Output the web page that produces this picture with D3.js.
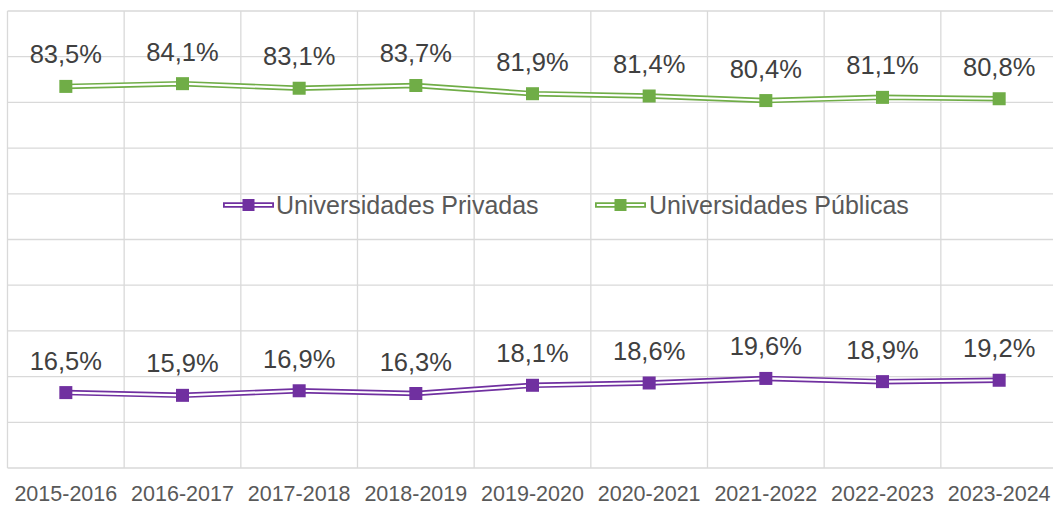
<!DOCTYPE html>
<html>
<head>
<meta charset="utf-8">
<script src="https://cdn.jsdelivr.net/npm/d3@7"></script>
<style>
  html, body { margin: 0; padding: 0; background: #fff; }
  svg { display: block; font-family: "Liberation Sans", Arial, sans-serif; }
</style>
</head>
<body>
<svg id="chart" width="1053" height="505"></svg>
<script>
// chart data
const years = ["2015-2016", "2016-2017", "2017-2018", "2018-2019", "2019-2020",
  "2020-2021", "2021-2022", "2022-2023", "2023-2024"];
const privadas = [16.5, 15.9, 16.9, 16.3, 18.1, 18.6, 19.6, 18.9, 19.2];
const publicas = [83.5, 84.1, 83.1, 83.7, 81.9, 81.4, 80.4, 81.1, 80.8];
const yTicks = [0, 10, 20, 30, 40, 50, 60, 70, 80, 90, 100];

const series = [
  { name: "Universidades Privadas", values: privadas, color: "#7030a0" },
  { name: "Universidades Públicas", values: publicas, color: "#70ad47" }
];

const svg = d3.select("#chart");
const plotLeft = 7.5, plotRight = 1057.5, plotTop = 11, plotBottom = 468;

const x = d3.scaleBand().domain(years).range([plotLeft, plotRight]);
const y = d3.scaleLinear().domain([0, 100]).range([plotBottom, plotTop]);
const fmt = v => v.toFixed(1).replace(".", ",") + "%";

// grid
const grid = svg.append("g").attr("stroke", "#d9d9d9").attr("stroke-width", 1.3);
grid.selectAll("line.h")
  .data(yTicks)
  .join("line")
  .attr("class", "h")
  .attr("x1", plotLeft).attr("x2", plotRight)
  .attr("y1", d => y(d)).attr("y2", d => y(d));
grid.selectAll("line.v")
  .data(years.concat(["end"]))
  .join("line")
  .attr("class", "v")
  .attr("x1", (d, i) => plotLeft + i * x.bandwidth())
  .attr("x2", (d, i) => plotLeft + i * x.bandwidth())
  .attr("y1", plotTop).attr("y2", plotBottom);

// x axis labels
svg.append("g")
  .selectAll("text")
  .data(years)
  .join("text")
  .attr("x", d => x(d) + x.bandwidth() / 2)
  .attr("y", 501)
  .attr("text-anchor", "middle")
  .attr("font-size", 21.5)
  .attr("fill", "#595959")
  .text(d => d);

const line = d3.line()
  .x((d, i) => x(years[i]) + x.bandwidth() / 2)
  .y(d => y(d));

// legend (inside plot area)
const legendItems = [
  { s: series[0], x0: 223, tx: 276 },
  { s: series[1], x0: 595, tx: 649 }
];
const lg = svg.append("g");
legendItems.forEach(it => {
  const ly = 205;
  lg.append("line").attr("x1", it.x0).attr("x2", it.x0 + 51).attr("y1", ly).attr("y2", ly)
    .attr("stroke", it.s.color).attr("stroke-width", 5.5);
  lg.append("line").attr("x1", it.x0 + 1.8).attr("x2", it.x0 + 49.2).attr("y1", ly).attr("y2", ly)
    .attr("stroke", "#fff").attr("stroke-width", 2.2);
  lg.append("rect").attr("x", it.x0 + 25.5 - 6).attr("y", ly - 6).attr("width", 12).attr("height", 12)
    .attr("fill", it.s.color);
  lg.append("text").attr("x", it.tx).attr("y", ly + 8.5)
    .attr("font-size", 25).attr("fill", "#595959").text(it.s.name);
});

// series
series.forEach(s => {
  const g = svg.append("g");
  g.append("path").datum(s.values).attr("d", line)
    .attr("fill", "none").attr("stroke", s.color).attr("stroke-width", 5.5);
  g.append("path").datum(s.values).attr("d", line)
    .attr("fill", "none").attr("stroke", "#fff").attr("stroke-width", 2.2);
  g.selectAll("rect")
    .data(s.values)
    .join("rect")
    .attr("x", (d, i) => x(years[i]) + x.bandwidth() / 2 - 6.5)
    .attr("y", d => y(d) - 6.5)
    .attr("width", 13).attr("height", 13)
    .attr("fill", s.color);
  g.selectAll("text")
    .data(s.values)
    .join("text")
    .attr("x", (d, i) => x(years[i]) + x.bandwidth() / 2)
    .attr("y", d => y(d) - 23)
    .attr("text-anchor", "middle")
    .attr("font-size", 25.5)
    .attr("fill", "#404040")
    .text(d => fmt(d));
});
</script>
</body>
</html>
